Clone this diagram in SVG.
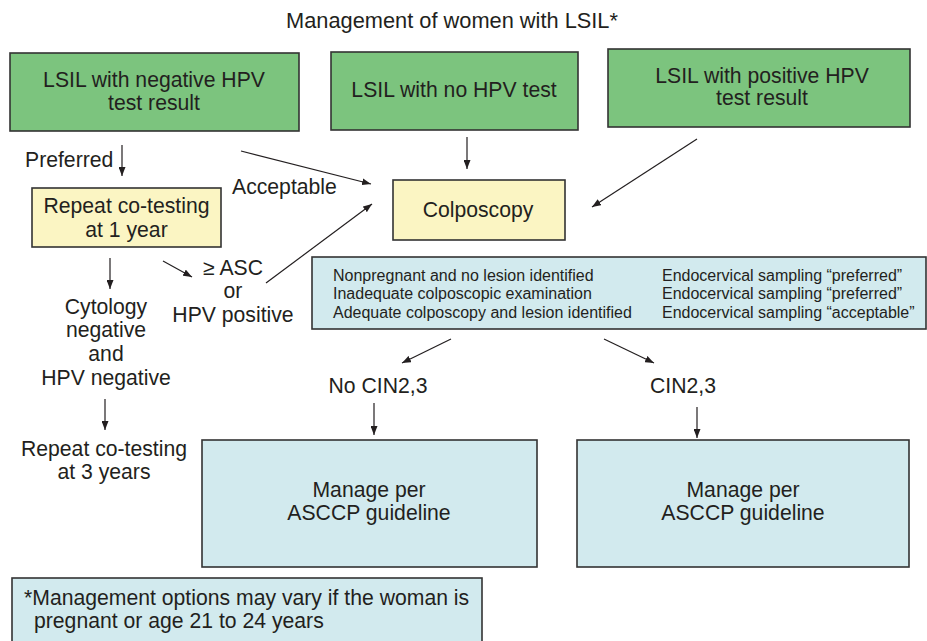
<svg xmlns="http://www.w3.org/2000/svg" width="927" height="641" viewBox="0 0 927 641">
<defs>
<style>
text{font-family:"Liberation Sans",Arial,sans-serif;fill:#231f20;font-size:21.2px}
.c{text-anchor:middle}
.s{font-size:16px}
.t{font-size:21.8px}
.box{stroke:#333;stroke-width:1.6}
.g{fill:#7cc47e}
.y{fill:#fbf5c3}
.b{fill:#d2eaee}
.ln{stroke:#231f20;stroke-width:1.2;fill:none;marker-end:url(#ah)}
</style>
<marker id="ah" markerUnits="userSpaceOnUse" markerWidth="9" markerHeight="7" refX="9" refY="3.5" orient="auto">
<path d="M0,0 L9,3.5 L0,7 z" fill="#231f20"/>
</marker>
</defs>
<rect width="927" height="641" fill="#fff"/>
<text id="title" class="c t" x="452" y="28">Management of women with LSIL*</text>

<g id="lsil-neg"><rect class="box g" x="10" y="53" width="289" height="78"/>
<text class="c" x="154" y="87">LSIL with negative HPV</text><text class="c" x="154" y="110">test result</text></g>
<g id="lsil-nohpv"><rect class="box g" x="331" y="52" width="247" height="78"/>
<text class="c" x="454" y="97">LSIL with no HPV test</text></g>
<g id="lsil-pos"><rect class="box g" x="608" y="49" width="302" height="78"/>
<text class="c" x="762" y="83">LSIL with positive HPV</text><text class="c" x="762" y="105">test result</text></g>

<g id="preferred"><text x="25" y="167">Preferred</text></g>
<g id="acceptable"><text x="232" y="194">Acceptable</text></g>

<g id="repeat1"><rect class="box y" x="32" y="188" width="189" height="59"/>
<text class="c" x="126.5" y="213">Repeat co-testing</text><text class="c" x="126.5" y="237">at 1 year</text></g>

<g id="colposcopy"><rect class="box y" x="393" y="180" width="172" height="60"/>
<text class="c" x="478" y="217">Colposcopy</text></g>

<g id="asc"><text class="c" x="233" y="275">≥ ASC</text><text class="c" x="233" y="298">or</text><text class="c" x="233" y="322">HPV positive</text></g>

<g id="sampling"><rect class="box b" x="312" y="257" width="614" height="72"/>
<text class="s" x="333" y="280.5">Nonpregnant and no lesion identified</text>
<text class="s" x="333" y="299">Inadequate colposcopic examination</text>
<text class="s" x="333" y="317.5">Adequate colposcopy and lesion identified</text>
<text class="s" x="662" y="280.5">Endocervical sampling “preferred”</text>
<text class="s" x="662" y="299">Endocervical sampling “preferred”</text>
<text class="s" x="662" y="317.5">Endocervical sampling “acceptable”</text></g>

<g id="cytneg"><text class="c" x="106" y="314">Cytology</text><text class="c" x="106" y="337">negative</text><text class="c" x="106" y="361">and</text><text class="c" x="106" y="385">HPV negative</text></g>
<g id="repeat3"><text class="c" x="104" y="456">Repeat co-testing</text><text class="c" x="104" y="479">at 3 years</text></g>

<g id="nocin"><text class="c" x="378" y="393">No CIN2,3</text></g>
<g id="cin"><text class="c" x="683" y="393">CIN2,3</text></g>

<g id="manage1"><rect class="box b" x="202" y="440" width="335" height="127"/>
<text class="c" x="369" y="497">Manage per</text><text class="c" x="369" y="520">ASCCP guideline</text></g>
<g id="manage2"><rect class="box b" x="577" y="440" width="332" height="127"/>
<text class="c" x="743" y="497">Manage per</text><text class="c" x="743" y="520">ASCCP guideline</text></g>

<g id="footnote"><rect class="box b" x="12" y="578" width="470" height="70"/>
<text x="24" y="605">*Management options may vary if the woman is</text>
<text x="34" y="628">pregnant or age 21 to 24 years</text></g>

<g id="connectors">
<line class="ln" x1="122" y1="145" x2="122" y2="176"/>
<line class="ln" x1="241" y1="151" x2="371" y2="184"/>
<line class="ln" x1="467" y1="137" x2="467" y2="169"/>
<line class="ln" x1="697" y1="139" x2="592" y2="207"/>
<line class="ln" x1="110" y1="258" x2="110" y2="289"/>
<line class="ln" x1="163" y1="261" x2="192" y2="277"/>
<line class="ln" x1="266" y1="283" x2="372" y2="204"/>
<line class="ln" x1="451" y1="339" x2="402" y2="363"/>
<line class="ln" x1="604" y1="339" x2="654" y2="363"/>
<line class="ln" x1="105" y1="399" x2="105" y2="430"/>
<line class="ln" x1="374" y1="403" x2="374" y2="435"/>
<line class="ln" x1="697" y1="407" x2="697" y2="438"/>
</g>
</svg>
